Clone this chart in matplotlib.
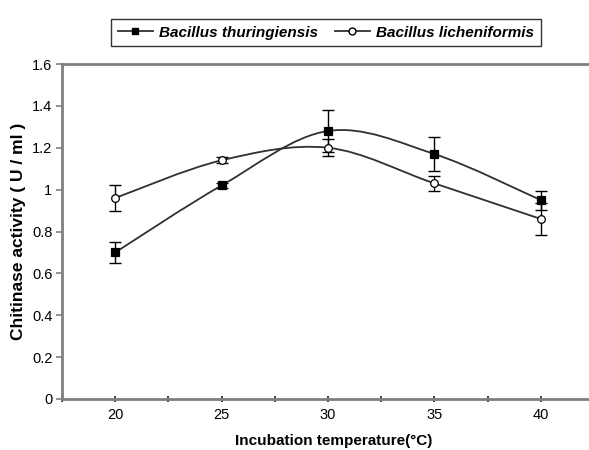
import matplotlib
matplotlib.use("Agg")
import matplotlib.pyplot as plt
from matplotlib.path import Path
from matplotlib.patches import PathPatch
from matplotlib.lines import Line2D
import numpy as np

temperatures = [20, 25, 30, 35, 40]
thuringiensis = [0.70, 1.02, 1.28, 1.17, 0.95]
thuringiensis_err = [0.05, 0.01, 0.10, 0.08, 0.045]
licheniformis = [0.96, 1.14, 1.20, 1.03, 0.86]
licheniformis_err = [0.06, 0.015, 0.04, 0.035, 0.075]
series_names = ["Bacillus thuringiensis", "Bacillus licheniformis"]
y_ticks = [0, 0.2, 0.4, 0.6, 0.8, 1, 1.2, 1.4, 1.6]
y_tick_labels = ["0", "0.2", "0.4", "0.6", "0.8", "1", "1.2", "1.4", "1.6"]

plt.rcParams['font.family'] = ['Liberation Sans', 'DejaVu Sans']

W, H = 589, 450
fig = plt.figure(figsize=(W / 100, H / 100), dpi=100)
left, right, top, bottom = 62, 594, 64, 399
ax = fig.add_axes([left / W, 1 - bottom / H, (right - left) / W, (bottom - top) / H])

spine_c = '#7f7f7f'
line_c = '#303030'


def smooth_path(xs, ys):
    xs = np.asarray(xs, float)
    ys = np.asarray(ys, float)
    pts = np.column_stack([xs, ys])
    n = len(pts)
    verts = [pts[0]]
    codes = [Path.MOVETO]
    for i in range(n - 1):
        p0 = pts[i - 1] if i > 0 else pts[i]
        p1 = pts[i]
        p2 = pts[i + 1]
        p3 = pts[i + 2] if i + 2 < n else pts[i + 1]
        c1 = p1 + (p2 - p0) / 6.0
        c2 = p2 - (p3 - p1) / 6.0
        verts += [c1, c2, p2]
        codes += [Path.CURVE4] * 3
    return Path(verts, codes)


for vals, errs, face in [(thuringiensis, thuringiensis_err, 'black'),
                         (licheniformis, licheniformis_err, 'white')]:
    ax.add_patch(PathPatch(smooth_path(temperatures, vals), fill=False,
                           edgecolor=line_c, lw=1.3, zorder=2))
    ax.errorbar(temperatures, vals, yerr=errs, fmt='none', ecolor='black',
                elinewidth=1.0, capsize=4, capthick=1.0, zorder=3)
    ax.plot(temperatures, vals, linestyle='none',
            marker='s' if face == 'black' else 'o', markersize=5.5,
            markerfacecolor=face, markeredgecolor='black', markeredgewidth=0.9,
            zorder=4)

ax.set_xlim(17.5, 42.5)
ax.set_ylim(0, 1.6)
ax.set_xticks(temperatures)
ax.set_xticks([17.5, 22.5, 27.5, 32.5, 37.5, 42.5], minor=True)
ax.set_yticks(y_ticks)
ax.set_yticklabels(y_tick_labels)

for s in ['left', 'top', 'bottom']:
    ax.spines[s].set_color(spine_c)
    ax.spines[s].set_linewidth(2)
ax.spines['right'].set_visible(False)

ax.tick_params(axis='x', which='both', direction='inout', length=5, width=1.2,
               color='#202020', labelsize=10.5, pad=4)
ax.tick_params(axis='y', direction='out', length=4, width=1.2, color=spine_c,
               labelsize=10.5, pad=3)

ax.set_xlabel('Incubation temperature(°C)', fontsize=11, fontweight='bold')
ax.xaxis.set_label_coords((334 - left) / (right - left), -0.105)
ax.set_ylabel('Chitinase activity ( U / ml )', fontsize=12.5, fontweight='bold', labelpad=4)

handles = [
    Line2D([], [], color=line_c, lw=1.3, marker='s', markersize=5,
           markerfacecolor='black', markeredgecolor='black'),
    Line2D([], [], color=line_c, lw=1.3, marker='o', markersize=5,
           markerfacecolor='white', markeredgecolor='black'),
]
leg = fig.legend(handles, series_names, loc='upper center',
                 bbox_to_anchor=(326 / W, 1 - 11 / H), ncol=2, frameon=True,
                 fancybox=False, edgecolor='black', handlelength=2.3,
                 handletextpad=0.4, columnspacing=1.1, borderpad=0.45,
                 prop={'weight': 'bold', 'style': 'italic', 'size': 11,
                       'family': ['Liberation Sans', 'DejaVu Sans']})
leg.get_frame().set_linewidth(1.0)

fig.savefig('out.png', dpi=100)
